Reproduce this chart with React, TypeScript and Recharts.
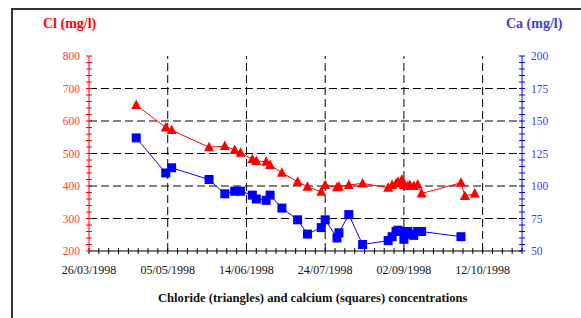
import React from "react";
import {
  LineChart,
  Line,
  XAxis,
  YAxis,
  ReferenceLine,
} from "recharts";

// sampling dates and measured concentrations (mg/l)
const sampleDates = [
  "19/04/1998", "04/05/1998", "07/05/1998", "26/05/1998", "03/06/1998",
  "08/06/1998", "11/06/1998", "17/06/1998", "19/06/1998", "24/06/1998",
  "26/06/1998", "02/07/1998", "10/07/1998", "15/07/1998", "22/07/1998",
  "24/07/1998", "30/07/1998", "31/07/1998", "05/08/1998", "12/08/1998",
  "25/08/1998", "27/08/1998", "29/08/1998", "30/08/1998", "01/09/1998",
  "02/09/1998", "04/09/1998", "05/09/1998", "07/09/1998", "09/09/1998",
  "11/09/1998", "01/10/1998", "03/10/1998", "08/10/1998",
];
const chloride = [
  649, 580, 572, 519, 523, 511, 502, 482, 477, 475,
  465, 441, 413, 398, 382, 403, 396, 398, 403, 408,
  395, 403, 408, 413, 420, 403, 400, 403, 400, 405,
  377, 410, 369, 377,
];
const calcium = [
  137, 110, 114, 105, 94, 96, 96, 93, 90, 89,
  93, 83, 74, 63, 68, 74, 60, 64, 78, 55,
  58, 61, 65, 66, 65, 59, 65, 63, 62, 65,
  65, 61, null, null,
];

const START = Date.UTC(1998, 2, 26);
const DAY = 86400000;
const X_END = 220;
const xTicks = Array.from({ length: X_END / 5 + 1 }, (_, i) => i * 5);
const xMajor = [40, 80, 120, 160, 200];
const clTicks = Array.from({ length: 31 }, (_, i) => 200 + i * 20);
const clMajor = [300, 400, 500, 600, 700];
const caTicks = Array.from({ length: 31 }, (_, i) => 50 + i * 5);

const toDay = (s: string) => {
  const [d, m, y] = s.split("/").map(Number);
  return Math.round((Date.UTC(y, m - 1, d) - START) / DAY);
};
const fmtDay = (v: number) => {
  if (v % 40 !== 0) return "";
  const dt = new Date(START + v * DAY);
  const dd = String(dt.getUTCDate()).padStart(2, "0");
  const mm = String(dt.getUTCMonth() + 1).padStart(2, "0");
  return `${dd}/${mm}/${dt.getUTCFullYear()}`;
};

const data = sampleDates.map((s, i) => ({
  day: toDay(s),
  cl: chloride[i],
  ca: calcium[i],
}));

const FONT = "Liberation Serif";

const Triangle = (props: any) => {
  const { cx, cy } = props;
  if (cx == null || cy == null) return null;
  return (
    <polygon
      points={`${cx},${cy - 5.5} ${cx - 5},${cy + 4} ${cx + 5},${cy + 4}`}
      fill="#ff0000"
      stroke="none"
    />
  );
};

const Square = (props: any) => {
  const { cx, cy } = props;
  if (cx == null || cy == null) return null;
  return <rect x={cx - 4.5} y={cy - 4.5} width={9} height={9} fill="#0000ff" />;
};

export default function App() {
  return (
    <div style={{ position: "absolute", left: 0, top: 0, width: 581, height: 318, overflow: "hidden", background: "#fff", fontFamily: FONT }}>
      <div style={{ position: "absolute", left: 11, top: 8, width: 620, height: 400, border: "2px solid #333" }} />
      <div style={{ position: "absolute", left: 43, top: 16, fontSize: 14, fontWeight: "bold", color: "#ff0000", lineHeight: "16px" }}>
        Cl (mg/l)
      </div>
      <div style={{ position: "absolute", left: 506, top: 16, fontSize: 14, fontWeight: "bold", color: "#4040cc", lineHeight: "16px" }}>
        Ca (mg/l)
      </div>
      <div style={{ position: "absolute", left: 158, top: 290, fontSize: 12.6, fontWeight: "bold", color: "#111", lineHeight: "16px", whiteSpace: "nowrap" }}>
        Chloride (triangles) and calcium (squares) concentrations
      </div>
      <div style={{ position: "absolute", left: 0, top: 0 }}>
        <LineChart
          width={581}
          height={318}
          data={data}
          margin={{ top: 56, right: 19, left: 49, bottom: 37 }}
          style={{ fontFamily: FONT }}
        >
          <XAxis
            xAxisId="top"
            orientation="top"
            dataKey="day"
            type="number"
            domain={[0, X_END]}
            height={0}
            tick={false}
            tickLine={false}
            axisLine={{ stroke: "#000" }}
          />
          <XAxis
            xAxisId="main"
            dataKey="day"
            type="number"
            domain={[0, X_END]}
            ticks={xTicks}
            interval={0}
            tickFormatter={fmtDay}
            height={30}
            tickSize={6}
            tickMargin={8}
            axisLine={{ stroke: "#000" }}
            tickLine={{ stroke: "#000", transform: "translate(0,-3)" }}
            tick={{ fill: "#111", fontSize: 12, fontFamily: FONT, style: { fontFamily: FONT } }}
          />
          <YAxis
            yAxisId="cl"
            domain={[200, 800]}
            ticks={clTicks}
            interval={0}
            tickFormatter={(v: number) => (v % 100 === 0 ? String(v) : "")}
            width={40}
            tickSize={6}
            tickMargin={3}
            axisLine={{ stroke: "#ff0000" }}
            tickLine={{ stroke: "#ff0000", transform: "translate(3,0)" }}
            tick={{ fill: "#ff3b3b", fontSize: 11.5, fontFamily: FONT, style: { fontFamily: FONT } }}
          />
          <YAxis
            yAxisId="ca"
            orientation="right"
            domain={[50, 200]}
            ticks={caTicks}
            interval={0}
            tickFormatter={(v: number) => (v % 25 === 0 ? String(v) : "")}
            width={40}
            tickSize={6}
            tickMargin={3}
            axisLine={{ stroke: "#0000ff" }}
            tickLine={{ stroke: "#0000ff", transform: "translate(-3,0)" }}
            tick={{ fill: "#3b3bff", fontSize: 11.5, fontFamily: FONT, textAnchor: "start", style: { fontFamily: FONT } }}
          />
          {clMajor.map((v) => (
            <ReferenceLine key={`h${v}`} xAxisId="main" yAxisId="cl" y={v} stroke="#000" strokeDasharray="8 4" />
          ))}
          {xMajor.map((v) => (
            <ReferenceLine key={`v${v}`} xAxisId="main" yAxisId="cl" x={v} stroke="#000" strokeDasharray="8 4" />
          ))}
          <Line
            xAxisId="main"
            yAxisId="cl"
            dataKey="cl"
            type="linear"
            stroke="#ff0000"
            strokeWidth={1}
            dot={<Triangle />}
            isAnimationActive={false}
          />
          <Line
            xAxisId="main"
            yAxisId="ca"
            dataKey="ca"
            type="linear"
            stroke="#0000ff"
            strokeWidth={1}
            dot={<Square />}
            isAnimationActive={false}
          />
        </LineChart>
      </div>
    </div>
  );
}
